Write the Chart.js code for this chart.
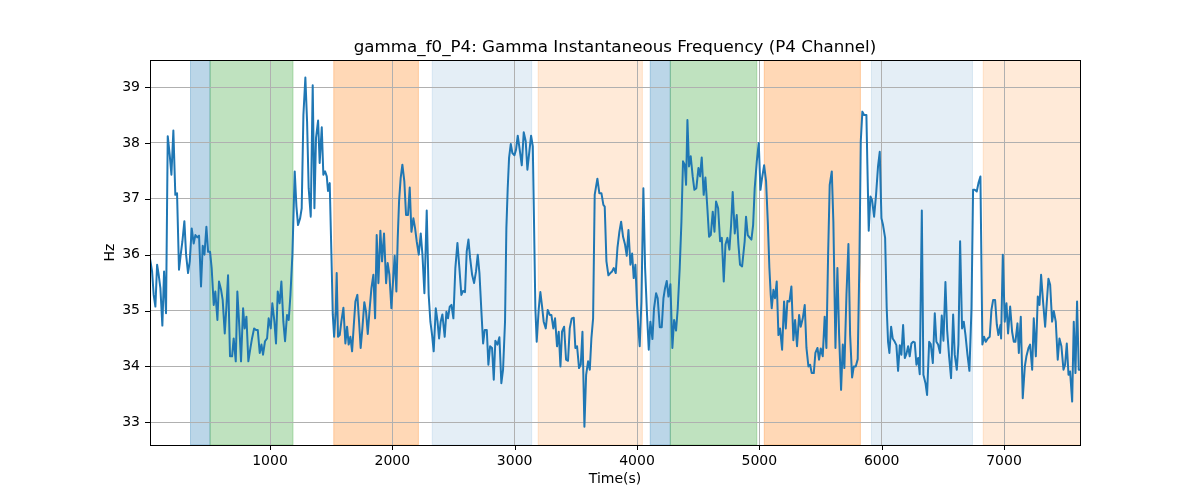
<!DOCTYPE html>
<html>
<head>
<meta charset="utf-8">
<script src="https://cdn.jsdelivr.net/npm/chart.js@4.4.0/dist/chart.umd.min.js"></script>
<style>
  html, body { margin: 0; padding: 0; background: #fff; }
  #wrap { width: 1200px; height: 500px; }
</style>
</head>
<body>
<div id="wrap"><canvas id="chart" width="1200" height="500"></canvas></div>
<script>
// time (s) and gamma frequency (Hz)
const times = [
  19,36,49,63,77,90,104,120,134,150,164,180,194,210,226,240,256,270,284,300,314,330,344,360,376,390,406,420,436,450,464,480,494,510,523,540,553,570,583,600,613,630,643,657,673,690,703,720,733,750,763,780,793,807,823,840,853,870,886,900,916,930,943,959,976,989,1006,1019,1036,1049,1063,1079,1093,1109,1123,1139,1153,1167,1183,
  1202,1216,1229,1246,1259,1273,1289,1303,1316,1333,1349,1363,1376,1393,1406,1423,1436,1450,1464,1474,1488,1502,1513,1524,1537,1545,1556,1570,1583,1600,1616,1630,1643,1657,1671,1684,1698,1714,1728,1741,1755,1771,1785,1799,1815,1829,1845,1859,1872,1886,1902,1916,1932,1949,1962,1976,1992,2009,2019,2033,2044,2055,2068,2082,2098,2112,2128,2142,2156,2172,2186,2199,2216,2232,2246,2262,2281,2297,2311,2325,2338,2355,2368,2382,2395,2409,
  2428,2442,2455,2469,2483,2499,2515,2532,2548,2564,2578,2594,2608,2622,2635,2652,2668,2684,2698,2712,2728,2742,2755,2772,2785,2799,2815,2829,2842,2859,2875,2891,2905,2921,2932,2943,2954,2968,2981,2998,3011,3025,3041,3058,3074,3090,3104,3120,3134,3148,3158,3169,3180,3197,3210,3224,3237,3254,3270,3287,3300,3316,3330,3346,3360,3374,3387,3404,3420,3436,3450,3466,3483,3496,3510,3526,3540,3554,3570,3584,3600,3614,3627,3641,
  3654,3676,3692,3709,3725,3736,3750,3766,3782,3796,3810,3826,3840,3856,3870,3886,3902,3916,3930,3946,3960,3973,3987,4000,4011,4022,4036,4052,4066,4082,4096,4109,4126,4139,4156,4169,4186,4202,4216,4229,4243,4257,4273,4289,4303,4319,4333,4349,4363,4376,4390,4401,4412,4425,4439,4455,4469,4485,4502,4515,4529,4545,4559,4575,4589,4603,4619,4633,4646,4663,4679,4693,4709,4723,4739,4755,4769,4782,4799,4815,4829,4842,4859,
  4880,4891,4905,4919,4935,4949,4962,4979,4995,5009,5022,5039,5055,5069,5082,5093,5101,5115,5128,5142,5156,5169,5186,5202,5216,5229,5246,5262,5278,5292,5308,5325,5338,5355,5371,5385,5401,5415,5428,5445,5458,5475,5488,5502,5518,5534,5548,5562,5575,5592,5605,5622,5638,5652,5668,5682,5695,5712,5728,5742,5758,5772,5788,5804,5818,5829,5842,5856,5875,5883,5894,5908,5921,5938,5954,5970,5984,5998,6011,6028,6041,6052,6063,6077,6090,
  6107,6120,6134,6148,6161,6175,6189,6202,6216,6229,6243,6257,6270,6284,6298,6311,6328,6341,6358,6371,6388,6401,6418,6434,6447,6461,6477,6491,6505,6521,6535,6551,6567,6584,6597,6614,6627,6641,6657,6671,6685,6701,6717,6734,6747,6761,6777,6791,6807,6823,6837,6851,6867,6883,6897,6911,6927,6941,6954,6971,6976,6990,7006,7020,7033,7050,7066,7080,7093,7110,7121,7137,7153,7170,7183,7200,7213,7230,7243,7260,7276,7290,7303,7319,7336,7349,7363,7377,7393,7407,7423,7439,7453,7469,7486,7499,7513,7527,7540,7557,7570,7584,7597,7611,7621
];
const gammaHz = [
  35.93,35.7,35.28,35.07,35.82,35.64,35.4,34.73,35.7,34.95,38.12,37.79,37.43,38.22,37.07,37.1,35.73,36.0,36.24,36.6,36.0,35.67,35.88,36.47,36.2,36.35,36.31,36.34,35.43,36.16,36.0,36.5,36.05,36.05,35.76,35.1,35.34,34.83,35.52,35.37,35.19,34.59,35.04,35.63,34.18,34.18,34.5,34.09,35.34,34.68,34.09,35.04,34.68,34.89,34.09,34.33,34.5,34.68,34.65,34.65,34.24,34.39,34.21,34.45,34.5,34.86,34.68,35.13,34.8,34.41,35.34,35.13,35.52,34.8,34.45,34.92,34.83,35.28,36.0,
  37.49,36.86,36.53,36.65,36.83,38.5,39.17,38.38,37.19,36.68,39.03,36.83,38.09,38.4,37.64,38.28,37.43,37.49,37.4,37.14,37.28,36.0,34.93,34.53,34.98,35.67,34.53,34.56,34.8,35.05,34.41,34.71,34.39,34.53,34.27,34.71,35.16,35.28,34.8,34.33,34.68,35.15,34.98,34.58,35.04,35.4,35.64,34.86,36.35,35.49,36.43,35.88,36.38,35.49,35.85,35.64,35.04,35.64,35.98,35.34,36.3,36.96,37.37,37.61,37.31,36.71,36.71,37.2,36.41,36.65,36.47,36.24,36.0,36.38,36.0,35.31,36.79,35.28,34.8,34.56,34.27,35.04,34.83,34.5,34.8,34.93,
  34.53,34.98,34.86,35.07,35.1,34.86,35.76,36.21,35.76,35.28,35.35,35.33,36.06,36.27,35.95,35.64,35.49,35.7,36.0,35.67,34.98,34.41,34.65,34.65,34.03,34.36,34.33,33.76,34.46,34.39,34.52,33.7,33.94,34.8,36.47,37.19,37.73,37.98,37.82,37.78,37.88,38.13,37.88,37.6,38.19,38.03,37.52,37.85,38.13,37.94,36.59,35.04,34.44,35.04,35.33,35.07,34.8,34.68,35.01,34.92,34.92,34.68,34.86,34.36,34.62,34.0,34.62,34.71,34.12,34.1,34.68,34.86,34.87,34.33,34.36,33.97,34.03,34.62,32.92,33.85,34.09,33.94,34.5,34.86,
  37.07,37.36,37.1,37.1,36.89,36.86,35.88,35.63,35.67,35.7,35.76,35.67,36.12,36.41,36.59,36.32,36.18,35.98,36.44,35.82,36.02,35.58,35.82,35.1,34.68,34.36,35.16,37.19,35.76,34.92,34.3,34.8,34.49,35.04,35.31,35.22,34.7,34.7,35.22,35.4,35.53,35.25,35.47,34.33,34.83,34.64,35.04,35.76,36.59,37.67,37.61,37.25,38.41,37.58,37.76,37.4,37.16,37.19,37.55,37.4,37.74,37.07,37.38,36.83,36.32,36.35,36.77,36.41,36.95,36.83,36.24,36.3,35.52,36.18,36.3,36.09,36.53,37.12,36.38,36.71,36.18,35.82,35.79,
  36.24,36.68,36.35,36.31,36.27,36.53,37.19,37.67,38.0,37.16,37.37,37.6,37.31,36.59,35.76,35.28,35.04,35.37,35.22,35.52,34.56,34.68,34.3,35.16,34.68,35.17,35.16,35.43,34.47,34.83,34.36,34.92,34.71,34.86,35.1,34.33,34.0,34.03,33.88,33.88,34.24,34.33,34.12,34.32,34.18,34.89,34.33,36.0,37.25,37.49,36.59,34.33,35.76,34.56,33.58,34.39,33.97,35.28,36.19,34.56,33.8,34.0,34.0,34.13,35.88,38.03,38.56,38.5,38.5,37.61,36.43,37.04,36.98,36.68,37.07,37.58,37.84,36.65,36.53,36.3,35.04,34.44,34.24,34.71,34.5,
  34.44,34.38,33.92,34.38,34.21,34.74,34.15,34.22,34.36,34.18,34.41,34.44,34.43,34.03,34.15,33.86,36.79,33.85,33.7,33.49,34.44,34.4,34.06,34.95,34.44,34.39,34.24,34.91,34.46,35.51,34.65,34.18,33.79,34.93,34.21,33.94,34.39,36.24,34.68,34.8,34.56,34.21,33.92,35.04,37.16,37.16,37.13,37.28,37.4,34.39,34.53,34.44,34.5,34.53,35.01,35.19,35.19,34.75,34.56,34.74,34.5,36.0,34.8,35.13,34.59,35.07,34.62,34.44,34.44,34.77,34.24,34.89,33.43,34.0,34.18,34.33,34.39,33.94,34.86,34.18,35.25,35.1,35.64,35.16,34.71,35.13,35.57,35.46,34.8,34.99,34.8,34.12,34.5,34.36,33.94,34.03,34.41,33.85,33.91,33.37,34.8,33.88,35.16,33.94,33.94
];

// shaded phases
const spanStart = [350, 510, 1521, 2326, 3192, 4108, 4272, 5040, 5916, 6830];
const spanEnd   = [510, 1188, 2213, 3139, 4044, 4272, 4979, 5826, 6742, 7640];
const spanKind  = ["blue", "green", "orange", "paleBlue", "paleOrange", "blue", "green", "orange", "paleBlue", "paleOrange"];

const xTicks = [1000, 2000, 3000, 4000, 5000, 6000, 7000];
const yTicks = [33, 34, 35, 36, 37, 38, 39];
const xRange = [19, 7621];
const yRange = [32.593, 39.484];

const spanColors = {
  blue: "rgba(31,119,180,0.3)",
  green: "rgba(44,160,44,0.3)",
  orange: "rgba(255,127,14,0.3)",
  paleBlue: "rgba(31,119,180,0.12)",
  paleOrange: "rgba(255,127,14,0.16)"
};

const FONT = "'DejaVu Sans', sans-serif";

const points = times.map((t, i) => ({ x: t, y: gammaHz[i] }));

const decor = {
  id: "decor",
  beforeDraw(chart) {
    const { ctx, chartArea: a, scales: { x } } = chart;
    ctx.save();
    ctx.beginPath();
    ctx.rect(a.left, a.top, a.right - a.left, a.bottom - a.top);
    ctx.clip();
    spanStart.forEach((s, i) => {
      const x0 = x.getPixelForValue(s), x1 = x.getPixelForValue(spanEnd[i]);
      ctx.fillStyle = spanColors[spanKind[i]];
      ctx.fillRect(x0, a.top, x1 - x0, a.bottom - a.top);
      ctx.strokeStyle = spanColors[spanKind[i]];
      ctx.lineWidth = 1;
      ctx.strokeRect(x0, a.top, x1 - x0, a.bottom - a.top);
    });
    ctx.restore();
  },
  afterDraw(chart) {
    const { ctx, chartArea: a, scales: { x, y } } = chart;
    ctx.save();
    ctx.strokeStyle = "#000";
    ctx.lineWidth = 1;
    ctx.strokeRect(Math.round(a.left) + 0.5, Math.round(a.top) + 0.5,
      Math.round(a.right - a.left), Math.round(a.bottom - a.top));
    ctx.beginPath();
    xTicks.forEach(v => {
      const px = Math.round(x.getPixelForValue(v)) + 0.5;
      ctx.moveTo(px, a.bottom); ctx.lineTo(px, a.bottom + 5);
    });
    yTicks.forEach(v => {
      const py = Math.round(y.getPixelForValue(v)) + 0.5;
      ctx.moveTo(a.left, py); ctx.lineTo(a.left - 5, py);
    });
    ctx.stroke();

    ctx.fillStyle = "#000";
    ctx.textAlign = "center";
    ctx.font = `16.7px ${FONT}`;
    ctx.textBaseline = "alphabetic";
    ctx.fillText("gamma_f0_P4: Gamma Instantaneous Frequency (P4 Channel)", (a.left + a.right) / 2, 52);

    ctx.font = `14px ${FONT}`;
    ctx.textBaseline = "top";
    ctx.fillText("Time(s)", (a.left + a.right) / 2, 472);

    ctx.translate(110, (a.top + a.bottom) / 2);
    ctx.rotate(-Math.PI / 2);
    ctx.textBaseline = "middle";
    ctx.fillText("Hz", 0, 0);
    ctx.restore();
  }
};

new Chart(document.getElementById("chart"), {
  type: "line",
  data: {
    datasets: [{
      data: points,
      borderColor: "#1f77b4",
      borderWidth: 2,
      pointRadius: 0,
      tension: 0,
      borderJoinStyle: "round",
      fill: false
    }]
  },
  options: {
    responsive: false,
    animation: false,
    layout: { padding: { top: 60, right: 120, bottom: 0, left: 0 } },
    plugins: { legend: { display: false }, tooltip: { enabled: false }, title: { display: false } },
    scales: {
      x: {
        type: "linear",
        min: xRange[0],
        max: xRange[1],
        afterBuildTicks: s => { s.ticks = xTicks.map(v => ({ value: v })); },
        afterFit: s => { s.height = 55; },
        grid: { color: "#b0b0b0", lineWidth: 1, drawTicks: false },
        border: { display: false },
        ticks: { padding: 8, color: "#000", font: { family: FONT, size: 14 }, maxRotation: 0, autoSkip: false,
          callback: v => String(v) }
      },
      y: {
        type: "linear",
        min: yRange[0],
        max: yRange[1],
        afterBuildTicks: s => { s.ticks = yTicks.map(v => ({ value: v })); },
        afterFit: s => { s.width = 150; },
        grid: { color: "#b0b0b0", lineWidth: 1, drawTicks: false },
        border: { display: false },
        ticks: { padding: 10, color: "#000", font: { family: FONT, size: 14 }, autoSkip: false,
          callback: v => String(v) }
      }
    }
  },
  plugins: [decor]
});
</script>
</body>
</html>
